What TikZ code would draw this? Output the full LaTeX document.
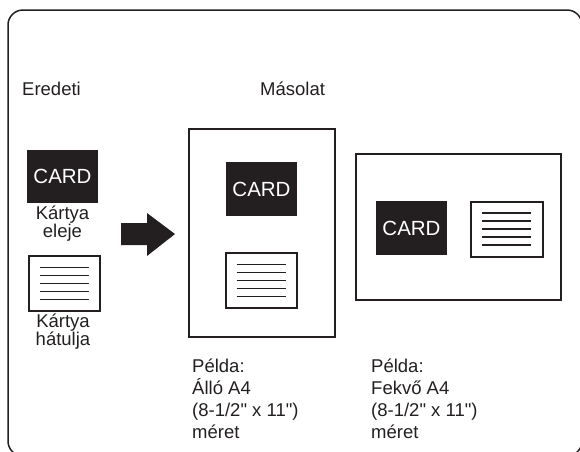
\documentclass[tikz,border=0pt]{standalone}
\usepackage{fontspec}
\setmainfont{Liberation Sans}[Ligatures=TeXOff]
\definecolor{ink}{HTML}{231F20}
\tikzset{
  lbl/.style={inner sep=0pt, text=ink, font=\fontsize{18.5}{18}\selectfont, anchor=base west},
  clbl/.style={inner sep=0pt, text=ink, font=\fontsize{18.5}{18}\selectfont, anchor=base},
  front/.style={fill=ink, text=white, inner sep=0pt, minimum width=71pt, minimum height=53pt, font=\fontsize{20.5}{20}\selectfont},
  back/.style={draw=ink, line width=2pt, fill=white, inner sep=0pt, minimum width=71pt, minimum height=55pt},
  page/.style={draw=ink, line width=1.3pt, fill=white, inner sep=0pt},
  rule/.style={draw=ink, line width=1.3pt},
  frame/.style={draw=ink, line width=1.5pt, rounded corners=15pt},
  bigarrow/.style={fill=ink}
}
\newcommand{\backlines}[1]{%
  \foreach \k in {-2,...,2} \draw[rule] ([xshift=-24.5pt,yshift=8*\k pt]#1.center) -- ++(49pt,0);}
\begin{document}
\begin{tikzpicture}[x=1pt,y=-1pt]
\useasboundingbox (0,0) rectangle (580,451);
\clip (0,0) rectangle (580,451);
\draw[frame] (8,10) rectangle (582,456);
% headings
\node[lbl] (eredeti) at (22,95) {Eredeti};
\node[lbl] (masolat) at (260,95) {Másolat};
% original cards
\node[front] (f1) at (62.5,176) {CARD};
\node[clbl] (f1a) at (62.5,219) {Kártya};
\node[clbl] (f1b) at (62.5,237) {eleje};
\node[back] (b1) at (64,283.5) {};
\backlines{b1}
\node[clbl] (b1a) at (63,327) {Kártya};
\node[clbl] (b1b) at (63,345) {hátulja};
% arrow
\coordinate (ar) at (121,234);
\fill[bigarrow] (ar) ++(0,-11) -- ++(26,0) -- ++(0,-10) -- ++(28,21) -- ++(-28,22) -- ++(0,-11) -- ++(-26,0) -- cycle;
% portrait page
\node[page, minimum width=146pt, minimum height=208pt] (p1) at (262,233) {};
\node[front, minimum height=54pt] (f2) at (261.5,189) {CARD};
\node[back] (b2) at (261,280.5) {};
\backlines{b2}
% landscape page
\node[page, minimum width=205pt, minimum height=146pt] (p2) at (458.5,227) {};
\node[front, minimum height=54pt] (f3) at (411.5,228) {CARD};
\node[back, minimum width=72pt] (b3) at (506.5,229) {};
\backlines{b3}
% captions
\node[lbl] (c1a) at (192,372) {Példa:};
\node[lbl] (c1b) at (192,394) {Álló A4};
\node[lbl] (c1c) at (192,416) {(8-1/2" x 11")};
\node[lbl] (c1d) at (192,438) {méret};
\node[lbl] (c2a) at (371,372) {Példa:};
\node[lbl] (c2b) at (371,394) {Fekvő A4};
\node[lbl] (c2c) at (371,416) {(8-1/2" x 11")};
\node[lbl] (c2d) at (371,438) {méret};
\end{tikzpicture}
\end{document}
